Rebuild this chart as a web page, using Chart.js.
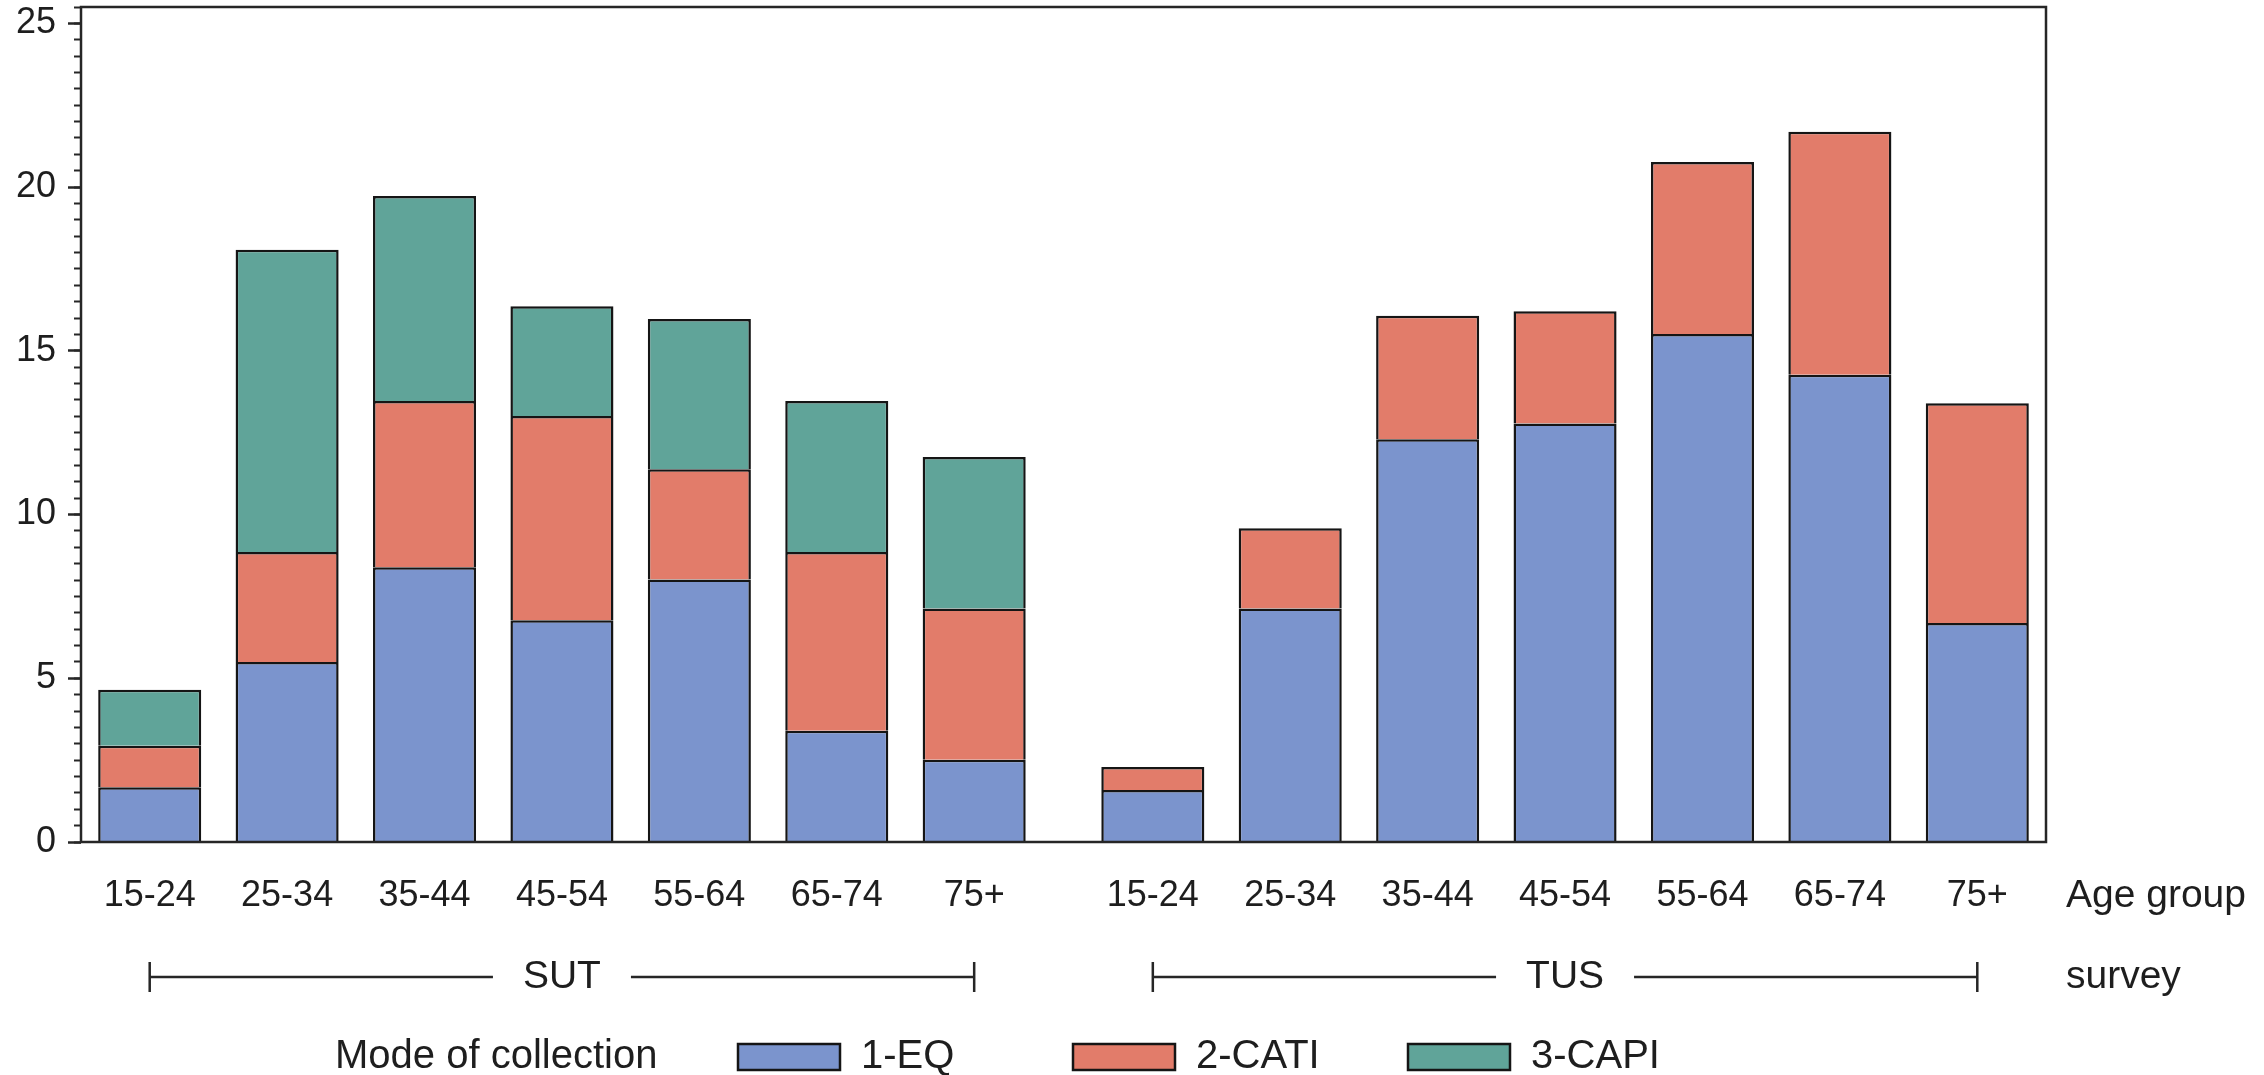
<!DOCTYPE html>
<html><head><meta charset="utf-8">
<script src="https://cdn.jsdelivr.net/npm/chart.js@4.4.1/dist/chart.umd.min.js"></script>
<style>html,body{margin:0;padding:0;background:#fff;} canvas{display:block;}</style>
</head><body>
<canvas id="c" width="2264" height="1075"></canvas>
<script>
// ---- data ----
const ageGroups = ['15-24','25-34','35-44','45-54','55-64','65-74','75+'];
const surveys = ['SUT','TUS'];
const modes = ['1-EQ','2-CATI','3-CAPI'];
const eqSUT   = [1.67, 5.50, 8.39, 6.77, 8.02, 3.40, 2.51];
const catiSUT = [1.27, 3.36, 5.08, 6.24, 3.36, 5.46, 4.62];
const capiSUT = [1.71, 9.23, 6.26, 3.35, 4.59, 4.61, 4.63];
const eqTUS   = [1.59, 7.13, 12.30, 12.78, 15.51, 14.27, 6.69];
const catiTUS = [0.70, 2.45, 3.77, 3.43, 5.26, 7.42, 6.71];
const capiTUS = [0, 0, 0, 0, 0, 0, 0];
const yTickValues = [0, 5, 10, 15, 20, 25];
const xAxisTitle = 'Age group';
const groupAxisTitle = 'survey';
const legendTitle = 'Mode of collection';

// ---- styles / layout ----
const FONT = '"Liberation Sans", Arial, sans-serif';
const TEXT = '#1e1e1e';
const LINE = '#262626';
const colors = ['#7b94cd', '#e27c6a', '#60a499'];
const GROUP_GAP = 0.3;
const pos = (g, i) => g * (ageGroups.length + GROUP_GAP) + i;
const series = [[eqSUT, eqTUS], [catiSUT, catiTUS], [capiSUT, capiTUS]];

Chart.defaults.font.family = FONT;
Chart.defaults.color = TEXT;

const datasets = modes.map((m, k) => ({
  label: m,
  data: surveys.flatMap((s, g) => series[k][g].map((v, i) => ({x: pos(g, i), y: v}))),
  backgroundColor: colors[k],
  borderColor: '#151515',
  borderWidth: 2.5,
  borderSkipped: 'start',
  categoryPercentage: 1,
  barPercentage: 0.75
}));

const extras = {
  id: 'extras',
  beforeDraw(chart) {
    const ctx = chart.ctx;
    ctx.save();
    ctx.fillStyle = '#fff';
    ctx.fillRect(0, 0, chart.width, chart.height);
    ctx.restore();
  },
  afterDatasetsDraw(chart) {
    const {ctx, chartArea: a} = chart;
    ctx.save();
    ctx.strokeStyle = LINE;
    ctx.lineWidth = 2.5;
    ctx.strokeRect(a.left, a.top, a.right - a.left, a.bottom - a.top);
    ctx.restore();
  },
  afterDraw(chart) {
    const {ctx, chartArea: a, scales: {x}} = chart;
    ctx.save();
    ctx.fillStyle = TEXT;
    ctx.textBaseline = 'middle';
    ctx.textAlign = 'left';
    ctx.font = '39px ' + FONT;
    ctx.fillText(xAxisTitle, a.right + 20, 896);
    ctx.fillText(groupAxisTitle, a.right + 20, 977);

    // survey brackets
    const by = 977;
    ctx.strokeStyle = LINE;
    ctx.lineWidth = 2.5;
    surveys.forEach((s, g) => {
      const x1 = x.getPixelForValue(pos(g, 0));
      const x2 = x.getPixelForValue(pos(g, ageGroups.length - 1));
      const mid = (x1 + x2) / 2;
      const tw = ctx.measureText(s).width;
      const gap = 30;
      ctx.beginPath();
      ctx.moveTo(x1, by); ctx.lineTo(mid - tw / 2 - gap, by);
      ctx.moveTo(mid + tw / 2 + gap, by); ctx.lineTo(x2, by);
      ctx.moveTo(x1, by - 15); ctx.lineTo(x1, by + 15);
      ctx.moveTo(x2, by - 15); ctx.lineTo(x2, by + 15);
      ctx.stroke();
      ctx.textAlign = 'center';
      ctx.fillText(s, mid, by);
      ctx.textAlign = 'left';
    });

    // legend
    ctx.textBaseline = 'alphabetic';
    ctx.font = '40px ' + FONT;
    const base = 1068;
    ctx.fillText(legendTitle, 335, base);
    chart.data.datasets.forEach((ds, i) => {
      const bx = 738 + i * 335;
      ctx.fillStyle = ds.backgroundColor;
      ctx.fillRect(bx, 1044, 102, 26);
      ctx.strokeStyle = '#151515';
      ctx.lineWidth = 2.5;
      ctx.strokeRect(bx, 1044, 102, 26);
      ctx.fillStyle = TEXT;
      ctx.fillText(ds.label, bx + 102 + 21, base);
    });
    ctx.restore();
  }
};

new Chart(document.getElementById('c'), {
  type: 'bar',
  data: { datasets },
  options: {
    responsive: false,
    animation: false,
    devicePixelRatio: 1,
    layout: { padding: { top: 7, right: 218, bottom: 0, left: 0 } },
    plugins: { legend: { display: false }, tooltip: { enabled: false } },
    scales: {
      x: {
        type: 'linear',
        stacked: true,
        offset: false,
        min: pos(0, 0) - 0.5,
        max: pos(surveys.length - 1, ageGroups.length - 1) + 0.5,
        afterBuildTicks: s => {
          s.ticks = surveys.flatMap((sv, g) => ageGroups.map((ag, i) => ({ value: pos(g, i) })));
        },
        ticks: {
          callback: (v, idx) => ageGroups[idx % ageGroups.length],
          font: { size: 36 },
          color: TEXT,
          padding: 32,
          autoSkip: false,
          maxRotation: 0,
          minRotation: 0
        },
        grid: { display: false, drawTicks: false, offset: false },
        border: { display: false },
        afterFit: s => { s.height = 233; s.paddingLeft = 0; s.paddingRight = 0; }
      },
      y: {
        type: 'linear',
        position: 'left',
        stacked: true,
        weight: 1,
        min: 0,
        max: 25.5,
        afterBuildTicks: s => { s.ticks = yTickValues.map(v => ({ value: v })); },
        ticks: { font: { size: 36 }, color: TEXT, padding: 12 },
        grid: { drawOnChartArea: false, drawTicks: true, tickLength: 13, tickWidth: 2.5, tickColor: LINE },
        border: { display: false },
        afterFit: s => { s.width = 81; s.paddingTop = 0; s.paddingBottom = 0; }
      },
      yMinor: {
        type: 'linear',
        position: 'left',
        weight: 0,
        min: 0,
        max: 25.5,
        ticks: { display: false, stepSize: 0.5, maxTicksLimit: 100, includeBounds: false },
        grid: { drawOnChartArea: false, drawTicks: true, tickLength: 7, tickWidth: 2, tickColor: LINE },
        border: { display: false },
        afterFit: s => { s.width = 0; s.paddingTop = 0; s.paddingBottom = 0; }
      }
    }
  },
  plugins: [extras]
});
</script>
</body></html>
